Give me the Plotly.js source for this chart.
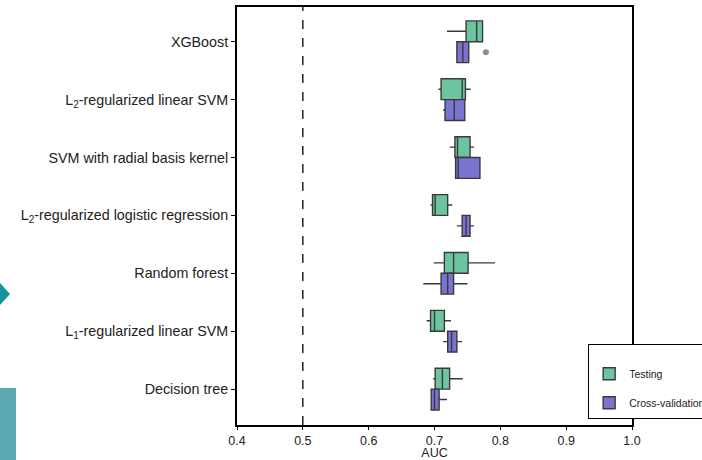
<!DOCTYPE html>
<html><head><meta charset="utf-8">
<script src="https://cdn.plot.ly/plotly-3.0.1.min.js"></script>
<style>html,body{margin:0;padding:0;background:#fff}#c{width:702px;height:460px}</style>
</head><body><div id="c"></div>
<script>
var categories = ["XGBoost","L<sub>2</sub>-regularized linear SVM","SVM with radial basis kernel","L<sub>2</sub>-regularized logistic regression","Random forest","L<sub>1</sub>-regularized linear SVM","Decision tree"];

var testMin    = [0.719, 0.706, 0.723, 0.694, 0.699, 0.688, 0.698];
var testQ1     = [0.748, 0.710, 0.731, 0.697, 0.715, 0.694, 0.701];
var testMedian = [0.764, 0.742, 0.735, 0.701, 0.729, 0.700, 0.712];
var testQ3     = [0.773, 0.747, 0.754, 0.720, 0.751, 0.715, 0.723];
var testMax    = [0.773, 0.755, 0.760, 0.727, 0.792, 0.725, 0.743];

var cvMin    = [0.734, 0.713, 0.732, 0.734, 0.683, 0.713, 0.694];
var cvQ1     = [0.734, 0.716, 0.732, 0.742, 0.710, 0.720, 0.695];
var cvMedian = [0.743, 0.730, 0.736, 0.748, 0.720, 0.726, 0.700];
var cvQ3     = [0.752, 0.746, 0.769, 0.754, 0.729, 0.734, 0.707];
var cvMax    = [0.752, 0.747, 0.769, 0.760, 0.750, 0.742, 0.719];
var cvOutliers = [[0.778], [], [], [], [], [], []];

var xTicks = [0.4, 0.5, 0.6, 0.7, 0.8, 0.9, 1.0];
var xTickLabels = ["0.4","0.5","0.6","0.7","0.8","0.9","1.0"];
var chanceLevel = 0.5;

var traces = [
  {type:'box', orientation:'h', name:'Testing', legendgroup:'t', y:categories,
   q1:testQ1, median:testMedian, q3:testQ3, lowerfence:testMin, upperfence:testMax,
   fillcolor:'#6cc59f', line:{color:'#3a3a3a', width:1.4}, whiskerwidth:0, boxpoints:false,
   hoverinfo:'x'},
  {type:'box', orientation:'h', name:'Cross-validation', legendgroup:'c', y:categories,
   x:cvOutliers,
   q1:cvQ1, median:cvMedian, q3:cvQ3, lowerfence:cvMin, upperfence:cvMax,
   fillcolor:'#7a73cf', line:{color:'#3a3a3a', width:1.4}, whiskerwidth:0,
   boxpoints:'outliers', jitter:0, pointpos:0,
   marker:{color:'#8c8c8c', size:6, outliercolor:'#8c8c8c', line:{width:0}},
   hoverinfo:'x'}
];

var layout = {
  width:702, height:460,
  margin:{l:237, r:70, t:7, b:35, autoexpand:false},
  paper_bgcolor:'#ffffff', plot_bgcolor:'#ffffff',
  font:{family:'Liberation Sans, Arial, sans-serif', color:'#111'},
  boxmode:'group', boxgap:0.28, boxgroupgap:0.0,
  xaxis:{range:[0.4,1.0], tickvals:xTicks, ticktext:xTickLabels, showgrid:false, zeroline:false,
    showline:true, mirror:true, linecolor:'#000', linewidth:2, ticks:'outside', ticklen:3, tickcolor:'#000',
    tickfont:{size:12.5, color:'#222'}, title:{text:'AUC', font:{size:12.5, color:'#222'}, standoff:1}},
  yaxis:{type:'category', range:[6.62, -0.6], showgrid:false, zeroline:false,
    showline:true, mirror:true, linecolor:'#000', linewidth:2, ticks:'outside', ticklen:4, tickcolor:'#000',
    tickfont:{size:14.3, color:'#222'}},
  showlegend:true,
  legend:{x:0.889, xanchor:'left', y:0.194, yanchor:'top', bgcolor:'#ffffff', bordercolor:'#000', borderwidth:1,
    font:{size:10.5, color:'#222'}, traceorder:'grouped', tracegroupgap:10,
    title:{text:' ', font:{size:11}}},
  shapes:[
    {type:'line', xref:'x', yref:'paper', x0:chanceLevel, x1:chanceLevel, y0:0, y1:1, line:{color:'#000', width:1.3, dash:'dash'}, layer:'below'},
    {type:'path', xref:'paper', yref:'paper', path:'M -0.6 0.3397 L -0.5747 0.3134 L -0.6 0.2871 Z', fillcolor:'#13949c', line:{width:0}},
    {type:'rect', xref:'paper', yref:'paper', x0:-0.6, x1:-0.5595, y0:-0.09, y1:0.0885, fillcolor:'#5aa9b3', line:{width:0}}
  ]
};

Plotly.newPlot('c', traces, layout, {displayModeBar:false, staticPlot:true});
</script>
</body></html>
